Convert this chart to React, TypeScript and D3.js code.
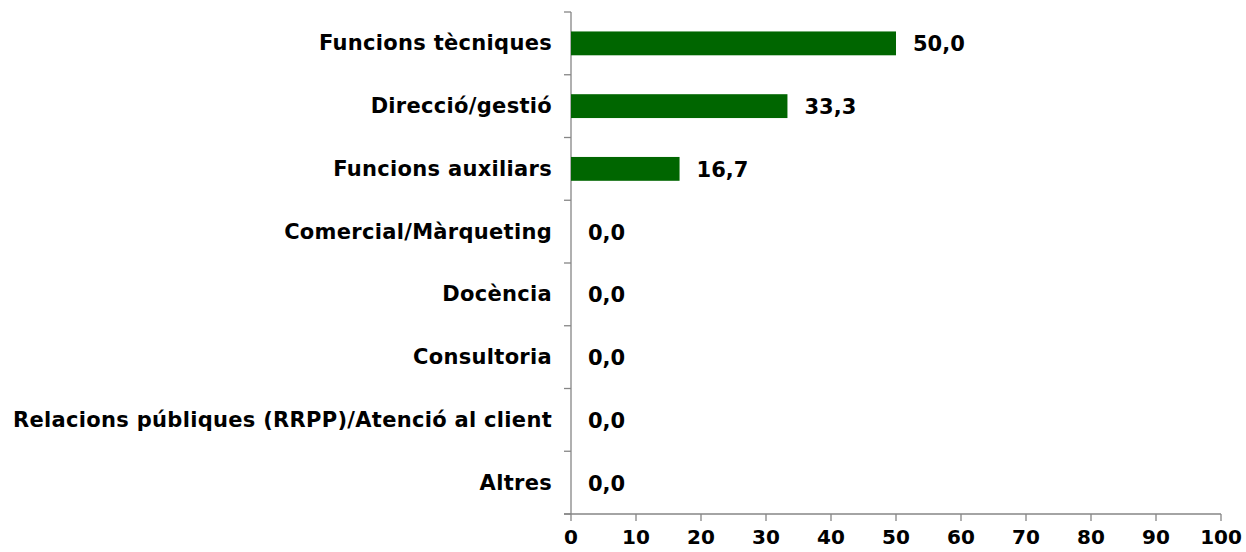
import React from 'react';
import * as d3 from 'd3';

const categories: string[] = [
  'Funcions tècniques',
  'Direcció/gestió',
  'Funcions auxiliars',
  'Comercial/Màrqueting',
  'Docència',
  'Consultoria',
  'Relacions públiques (RRPP)/Atenció al client',
  'Altres',
];
const values: number[] = [50.0, 33.3, 16.7, 0.0, 0.0, 0.0, 0.0, 0.0];
const xTicks: number[] = [0, 10, 20, 30, 40, 50, 60, 70, 80, 90, 100];

const width = 1246;
const height = 552;
const margin = { left: 571, top: 12, right: 25, bottom: 38 };
const font = '"DejaVu Sans", Verdana, sans-serif';
const axisColor = '#868686';

const App = () => {
  const x = d3
    .scaleLinear()
    .domain([0, 100])
    .range([margin.left, width - margin.right]);
  const y = d3
    .scaleBand()
    .domain(categories)
    .range([margin.top, height - margin.bottom])
    .paddingInner(0.62)
    .paddingOuter(0.31);
  const step = y.step();
  const yBottom = height - margin.bottom;
  const fmt = (v: number) => v.toFixed(1).replace('.', ',');

  return (
    <svg
      width={width}
      height={height}
      style={{ position: 'absolute', left: 0, top: 0 }}
      fontFamily={font}
      fontWeight="bold"
    >
      {/* y axis */}
      <line x1={x(0)} x2={x(0)} y1={margin.top} y2={yBottom} stroke={axisColor} strokeWidth={1.3} />
      {d3.range(categories.length + 1).map((i) => (
        <line
          key={'yt' + i}
          x1={x(0) - 7}
          x2={x(0)}
          y1={margin.top + i * step}
          y2={margin.top + i * step}
          stroke={axisColor}
          strokeWidth={1.3}
        />
      ))}
      {/* x axis */}
      <line x1={x(0) - 7} x2={x(100)} y1={yBottom} y2={yBottom} stroke={axisColor} strokeWidth={1.3} />
      {xTicks.map((t) => (
        <g key={'xt' + t}>
          <line x1={x(t)} x2={x(t)} y1={yBottom} y2={yBottom + 7} stroke={axisColor} strokeWidth={1.3} />
          <text x={x(t)} y={yBottom + 23} textAnchor="middle" dominantBaseline="central" fontSize={20} fill="#000">
            {t}
          </text>
        </g>
      ))}
      {/* category labels */}
      {categories.map((c) => (
        <text
          key={'c' + c}
          x={x(0) - 19}
          y={(y(c) as number) + y.bandwidth() / 2}
          textAnchor="end"
          dominantBaseline="central"
          fontSize={21}
          letterSpacing={0.3}
          fill="#000"
        >
          {c}
        </text>
      ))}
      {/* bars */}
      {categories.map((c, i) => (
        <rect
          key={'b' + c}
          x={x(0)}
          y={y(c)}
          width={Math.max(0, x(values[i]) - x(0))}
          height={y.bandwidth()}
          fill="#006600"
        />
      ))}
      {/* value labels */}
      {categories.map((c, i) => (
        <text
          key={'v' + c}
          x={x(values[i]) + 17}
          y={(y(c) as number) + y.bandwidth() / 2 + 1}
          dominantBaseline="central"
          fontSize={21}
          fill="#000"
        >
          {fmt(values[i])}
        </text>
      ))}
    </svg>
  );
};

export default App;
